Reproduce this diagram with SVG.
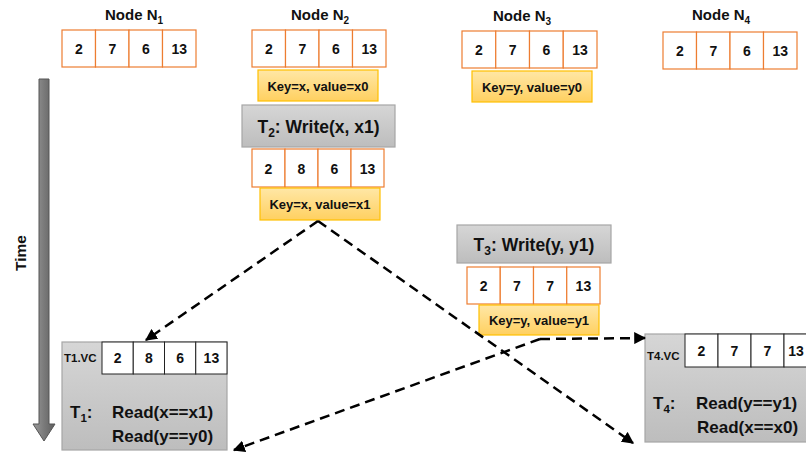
<svg xmlns="http://www.w3.org/2000/svg" width="806" height="454" viewBox="0 0 806 454">
  <defs>
    <linearGradient id="keyFill" x1="0" y1="0" x2="0" y2="1">
      <stop offset="0" stop-color="#FFE7A6"/>
      <stop offset="1" stop-color="#FFD060"/>
    </linearGradient>
    <linearGradient id="grayFill" x1="0" y1="0" x2="0" y2="1">
      <stop offset="0" stop-color="#D6D6D6"/>
      <stop offset="1" stop-color="#BDBDBD"/>
    </linearGradient>
    <linearGradient id="barFill" x1="0" y1="0" x2="1" y2="0">
      <stop offset="0" stop-color="#9A9A9A"/>
      <stop offset="0.5" stop-color="#7A7A7A"/>
      <stop offset="1" stop-color="#5E5E5E"/>
    </linearGradient>
    <marker id="arrow" viewBox="0 0 10 10" refX="9" refY="5" markerWidth="4.8" markerHeight="4.8" orient="auto" markerUnits="strokeWidth">
      <path d="M0,0 L10,5 L0,10 z" fill="#000"/>
    </marker>
  </defs>
  <style>
    text { font-family: "Liberation Sans", Arial, sans-serif; font-weight: bold; fill: #111; }
    .cell { fill: #fff; stroke: #ED7D31; stroke-width: 1.2; }
    .vc { fill: #fff; stroke: #222; stroke-width: 1; }
    .num { font-size: 14px; text-anchor: middle; }
    .title { font-size: 15px; text-anchor: middle; }
    .key { fill: url(#keyFill); stroke: #FFC000; stroke-width: 1.2; }
    .keyt { font-size: 13px; text-anchor: middle; }
    .gray { fill: url(#grayFill); stroke: #A6A6A6; stroke-width: 1.2; }
    .op { font-size: 17.5px; text-anchor: middle; }
    .read { font-size: 17px; }
    .small { font-size: 11.5px; }
    .dash { fill: none; stroke: #000; stroke-width: 2.5; stroke-dasharray: 10 6; marker-end: url(#arrow); }
  </style>

  <rect width="806" height="454" fill="#fff"/>

  <!-- time axis -->
  <g id="time-axis">
    <path d="M39,79 H49 V424 H55 L44,441 L33,424 H39 Z" fill="url(#barFill)" stroke="#555" stroke-width="1"/>
    <text x="0" y="0" font-size="15.5" text-anchor="middle" transform="translate(26,253) rotate(-90)">Time</text>
  </g>

  <!-- node N1 -->
  <g id="node-n1">
    <text class="title" x="134" y="20">Node N<tspan font-size="10" dy="4">1</tspan></text>
    <rect class="cell" x="62" y="30" width="33.5" height="37"/>
    <rect class="cell" x="95.5" y="30" width="33.5" height="37"/>
    <rect class="cell" x="129" y="30" width="33.5" height="37"/>
    <rect class="cell" x="162.5" y="30" width="33.5" height="37"/>
    <text class="num" x="78.8" y="54">2</text>
    <text class="num" x="112.3" y="54">7</text>
    <text class="num" x="145.8" y="54">6</text>
    <text class="num" x="179.3" y="54">13</text>
  </g>

  <!-- node N2 -->
  <g id="node-n2">
    <text class="title" x="320" y="20">Node N<tspan font-size="10" dy="4">2</tspan></text>
    <rect class="cell" x="252" y="30" width="33.5" height="37"/>
    <rect class="cell" x="285.5" y="30" width="33.5" height="37"/>
    <rect class="cell" x="319" y="30" width="33.5" height="37"/>
    <rect class="cell" x="352.5" y="30" width="33.5" height="37"/>
    <text class="num" x="268.8" y="54">2</text>
    <text class="num" x="302.3" y="54">7</text>
    <text class="num" x="335.8" y="54">6</text>
    <text class="num" x="369.3" y="54">13</text>
    <rect class="key" x="258" y="70" width="120" height="31"/>
    <text class="keyt" x="318" y="90.5">Key=x, value=x0</text>
  </g>

  <!-- node N3 -->
  <g id="node-n3">
    <text class="title" x="522" y="21">Node N<tspan font-size="10" dy="4">3</tspan></text>
    <rect class="cell" x="462" y="31" width="33.75" height="37"/>
    <rect class="cell" x="495.75" y="31" width="33.75" height="37"/>
    <rect class="cell" x="529.5" y="31" width="33.75" height="37"/>
    <rect class="cell" x="563.25" y="31" width="33.75" height="37"/>
    <text class="num" x="478.9" y="55">2</text>
    <text class="num" x="512.6" y="55">7</text>
    <text class="num" x="546.4" y="55">6</text>
    <text class="num" x="580.1" y="55">13</text>
    <rect class="key" x="472" y="71" width="120" height="31"/>
    <text class="keyt" x="532" y="91.5">Key=y, value=y0</text>
  </g>

  <!-- node N4 -->
  <g id="node-n4">
    <text class="title" x="721" y="20">Node N<tspan font-size="10" dy="4">4</tspan></text>
    <rect class="cell" x="663" y="32" width="33.5" height="37"/>
    <rect class="cell" x="696.5" y="32" width="33.5" height="37"/>
    <rect class="cell" x="730" y="32" width="33.5" height="37"/>
    <rect class="cell" x="763.5" y="32" width="33.5" height="37"/>
    <text class="num" x="679.8" y="56">2</text>
    <text class="num" x="713.3" y="56">7</text>
    <text class="num" x="746.8" y="56">6</text>
    <text class="num" x="780.3" y="56">13</text>
  </g>

  <!-- T2 write on N2 -->
  <g id="t2-write">
    <rect class="gray" x="242" y="105" width="153" height="42"/>
    <text class="op" x="318.5" y="132.5">T<tspan font-size="12" dy="4">2</tspan><tspan dy="-4">: Write(x, x1)</tspan></text>
    <rect class="cell" x="252" y="149" width="33" height="38"/>
    <rect class="cell" x="285" y="149" width="33" height="38"/>
    <rect class="cell" x="318" y="149" width="33" height="38"/>
    <rect class="cell" x="351" y="149" width="33" height="38"/>
    <text class="num" x="268.5" y="173.5">2</text>
    <text class="num" x="301.5" y="173.5">8</text>
    <text class="num" x="334.5" y="173.5">6</text>
    <text class="num" x="367.5" y="173.5">13</text>
    <rect class="key" x="260" y="188" width="120" height="32"/>
    <text class="keyt" x="320" y="208.5">Key=x, value=x1</text>
  </g>

  <!-- T3 write on N3 -->
  <g id="t3-write">
    <rect class="gray" x="457" y="225" width="154" height="38"/>
    <text class="op" x="534" y="250.5">T<tspan font-size="12" dy="4">3</tspan><tspan dy="-4">: Write(y, y1)</tspan></text>
    <rect class="cell" x="467" y="267" width="33.25" height="37"/>
    <rect class="cell" x="500.25" y="267" width="33.25" height="37"/>
    <rect class="cell" x="533.5" y="267" width="33.25" height="37"/>
    <rect class="cell" x="566.75" y="267" width="33.25" height="37"/>
    <text class="num" x="483.6" y="290.5">2</text>
    <text class="num" x="516.9" y="290.5">7</text>
    <text class="num" x="550.1" y="290.5">7</text>
    <text class="num" x="583.4" y="290.5">13</text>
    <rect class="key" x="479" y="305" width="120" height="30"/>
    <text class="keyt" x="539" y="324.5">Key=y, value=y1</text>
  </g>

  <!-- T1 read -->
  <g id="t1-read">
    <rect class="gray" x="62" y="342" width="165" height="108"/>
    <text class="small" x="64" y="362">T1.VC</text>
    <rect class="vc" x="102" y="342" width="31.25" height="32"/>
    <rect class="vc" x="133.25" y="342" width="31.25" height="32"/>
    <rect class="vc" x="164.5" y="342" width="31.25" height="32"/>
    <rect class="vc" x="195.75" y="342" width="31.25" height="32"/>
    <text class="num" x="117.6" y="363">2</text>
    <text class="num" x="148.9" y="363">8</text>
    <text class="num" x="180.1" y="363">6</text>
    <text class="num" x="211.4" y="363">13</text>
    <text class="read" x="70" y="418">T<tspan font-size="11.5" dy="4">1</tspan><tspan dy="-4">:</tspan></text>
    <text class="read" x="112" y="418">Read(x==x1)</text>
    <text class="read" x="112" y="442">Read(y==y0)</text>
  </g>

  <!-- T4 read -->
  <g id="t4-read">
    <rect class="gray" x="645" y="334" width="170" height="108"/>
    <text class="small" x="647" y="360">T4.VC</text>
    <rect class="vc" x="685" y="334" width="33" height="33"/>
    <rect class="vc" x="718" y="334" width="33" height="33"/>
    <rect class="vc" x="751" y="334" width="33" height="33"/>
    <rect class="vc" x="784" y="334" width="33" height="33"/>
    <text class="num" x="701.5" y="355.5">2</text>
    <text class="num" x="734.5" y="355.5">7</text>
    <text class="num" x="767.5" y="355.5">7</text>
    <text class="num" x="796" y="355.5">13</text>
    <text class="read" x="653" y="409">T<tspan font-size="11.5" dy="4">4</tspan><tspan dy="-4">:</tspan></text>
    <text class="read" x="696" y="409">Read(y==y1)</text>
    <text class="read" x="697" y="433">Read(x==x0)</text>
  </g>

  <!-- message connectors -->
  <g id="connectors">
    <path class="dash" d="M318,221 L146,340"/>
    <path class="dash" d="M318,221 L633,443"/>
    <path class="dash" d="M540,339 L234,450"/>
    <path class="dash" d="M540,339 L645,338"/>
  </g>
</svg>
